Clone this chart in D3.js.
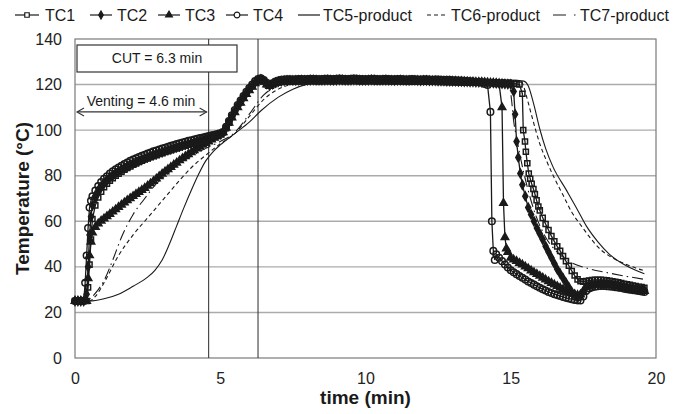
<!DOCTYPE html>
<html>
<head>
<meta charset="utf-8">
<script src="https://cdn.jsdelivr.net/npm/d3@7"></script>
<style>
  body { margin: 0; background: #fff; }
  svg { display: block; font-family: "Liberation Sans", Arial, sans-serif; }
</style>
</head>
<body>
<svg id="chart" width="683" height="414"></svg>
<script>
// ---- data: [time (min), temperature (°C)] ----
const xTicks = [0, 5, 10, 15, 20];
const yTicks = [0, 20, 40, 60, 80, 100, 120, 140];
const ventingTime = 4.6;
const cutTime = 6.3;

const tc1 = [[0,25],[0.1,25],[0.2,25],[0.3,25],[0.4,25],[0.45,31],[0.5,41],[0.55,52],[0.6,61],[0.7,67],[0.8,70.5],[0.9,73],
  [1.0,75],[1.1,76.5],[1.2,77.8],[1.3,78.9],[1.4,80],[1.5,80.9],[1.6,81.8],[1.7,82.6],[1.8,83.4],[1.9,84.1],[2.0,84.8],
  [2.1,85.4],[2.2,86],[2.3,86.6],[2.4,87.1],[2.5,87.6],[2.6,88.1],[2.7,88.6],[2.8,89],[2.9,89.5],[3.0,89.9],[3.1,90.4],
  [3.2,90.8],[3.3,91.2],[3.4,91.6],[3.5,92],[3.6,92.4],[3.7,92.8],[3.8,93.2],[3.9,93.6],[4.0,94],[4.1,94.4],[4.2,94.8],
  [4.3,95.2],[4.4,95.6],[4.5,96],[4.6,96.4],[4.7,96.8],[4.8,97.3],[4.9,97.7],[5.0,98.2],[5.1,99],[5.2,100.8],[5.3,103.3],
  [5.4,105.8],[5.5,108.1],[5.6,110.3],[5.7,112.3],[5.8,114.3],[5.9,116.1],[6.0,117.8],[6.1,119.3],[6.2,120.8],[6.3,121.8],
  [6.4,122.2],[6.5,121.5],[6.6,120.2],[6.7,119.6],[6.8,120.2],[6.9,120.8],[7.0,121.2],
  [7.1,121.3],[7.2,121.4],[7.3,121.5],[7.4,121.6],[7.5,121.6],[7.6,121.5],[7.7,121.6],[7.8,121.7],[7.9,121.7],[8.0,121.6],
  [8.1,121.7],[8.2,121.8],[8.3,121.7],[8.4,121.6],[8.5,121.7],[8.6,121.8],[8.7,121.8],[8.8,121.7],[8.9,121.6],[9.0,121.7],
  [9.1,121.8],[9.2,121.9],[9.3,121.8],[9.4,121.7],[9.5,121.7],[9.6,121.8],[9.7,121.9],[9.8,121.8],[9.9,121.7],[10.0,121.6],
  [10.1,121.7],[10.2,121.8],[10.3,121.8],[10.4,121.7],[10.5,121.6],[10.6,121.7],[10.7,121.8],[10.8,121.7],[10.9,121.6],[11.0,121.6],
  [11.1,121.7],[11.2,121.7],[11.3,121.6],[11.4,121.5],[11.5,121.6],[11.6,121.7],[11.7,121.6],[11.8,121.5],[11.9,121.5],[12.0,121.6],
  [12.1,121.6],[12.2,121.5],[12.3,121.5],[12.4,121.5],[12.5,121.4],[12.6,121.5],[12.7,121.5],[12.8,121.4],[12.9,121.4],[13.0,121.4],
  [13.1,121.4],[13.2,121.3],[13.3,121.3],[13.4,121.3],[13.5,121.3],[13.6,121.2],[13.7,121.2],[13.8,121.2],[13.9,121.2],[14.0,121.1],
  [14.1,121.1],[14.2,121],[14.3,121],[14.4,120.9],[14.5,120.9],[14.6,120.8],[14.7,120.7],[14.8,120.7],[14.9,120.6],[15.0,120.5],
  [15.1,120.4],[15.2,120.3],[15.3,120],[15.4,116],[15.43,100],[15.49,95],[15.52,90.5],[15.57,85.5],[15.62,81],[15.67,78.7],
  [15.72,76.5],[15.78,74.2],[15.83,72],[15.89,69.2],[15.95,66.5],[16.0,64.8],[16.1,61.5],[16.2,58.8],[16.3,56.2],[16.4,53.5],
  [16.5,51.2],[16.6,49],[16.7,47],[16.8,44.7],[16.9,42.5],[17.0,40.5],[17.1,38.2],[17.2,36.2],[17.3,34.5],[17.4,33.7],
  [17.5,33.5],[17.6,33.8],[17.7,34],[17.8,34.2],[17.9,34.3],[18.0,34.3],[18.1,34.3],[18.2,34.2],[18.3,34.1],[18.4,33.9],
  [18.5,33.7],[18.6,33.4],[18.7,33.2],[18.8,32.9],[18.9,32.6],[19.0,32.3],[19.1,32.1],[19.2,31.8],[19.3,31.6],[19.4,31.3],
  [19.5,31.1],[19.6,30.8]];

const tc2 = [[0,25],[0.1,25],[0.2,25],[0.3,25],[0.4,28],[0.45,40],[0.5,54],[0.55,62],[0.6,67],[0.7,70.5],[0.8,73],[0.9,75],
  [1.0,76.5],[1.1,77.8],[1.2,79],[1.3,80],[1.4,81],[1.5,81.8],[1.6,82.6],[1.7,83.3],[1.8,84],[1.9,84.7],[2.0,85.3],[2.1,85.9],
  [2.2,86.5],[2.3,87.1],[2.4,87.6],[2.5,88.1],[2.6,88.6],[2.7,89.1],[2.8,89.5],[2.9,90],[3.0,90.4],[3.1,90.9],[3.2,91.3],
  [3.3,91.7],[3.4,92.1],[3.5,92.5],[3.6,92.9],[3.7,93.3],[3.8,93.7],[3.9,94],[4.0,94.4],[4.1,94.8],[4.2,95.1],[4.3,95.5],
  [4.4,95.8],[4.5,96.2],[4.6,96.5],[4.7,96.9],[4.8,97.3],[4.9,97.8],[5.0,98.3],[5.1,99],[5.2,101],[5.3,103.5],[5.4,106],
  [5.5,108.3],[5.6,110.5],[5.7,112.5],[5.8,114.5],[5.9,116.3],[6.0,118],[6.1,119.6],[6.2,121],[6.3,122],[6.4,122.3],
  [6.5,121.6],[6.6,120.3],[6.7,119.5],[6.8,120.2],[6.9,120.9],[7.0,121.3],
  [7.1,121.5],[7.2,121.7],[7.3,121.8],[7.4,121.9],[7.5,121.8],[7.6,121.8],[7.7,121.9],[7.8,122],[7.9,121.9],[8.0,121.9],
  [8.1,122],[8.2,122.1],[8.3,122],[8.4,121.9],[8.5,121.9],[8.6,122],[8.7,122.1],[8.8,122],[8.9,121.9],[9.0,122],
  [9.1,122.1],[9.2,122.1],[9.3,122],[9.4,121.9],[9.5,122],[9.6,122.1],[9.7,122.1],[9.8,122],[9.9,121.9],[10.0,121.9],
  [10.1,122],[10.2,122.1],[10.3,122],[10.4,121.9],[10.5,121.9],[10.6,122],[10.7,122],[10.8,121.9],[10.9,121.9],[11.0,121.8],
  [11.1,121.9],[11.2,122],[11.3,121.9],[11.4,121.8],[11.5,121.8],[11.6,121.9],[11.7,121.9],[11.8,121.8],[11.9,121.7],[12.0,121.8],
  [12.1,121.8],[12.2,121.7],[12.3,121.7],[12.4,121.7],[12.5,121.6],[12.6,121.6],[12.7,121.6],[12.8,121.5],[12.9,121.5],[13.0,121.5],
  [13.1,121.5],[13.2,121.4],[13.3,121.4],[13.4,121.3],[13.5,121.3],[13.6,121.2],[13.7,121.2],[13.8,121.1],[13.9,121.1],[14.0,121.1],
  [14.1,121],[14.2,120.9],[14.3,120.8],[14.4,120.7],[14.5,120.6],[14.6,120.5],[14.7,120.4],[14.8,120.3],[14.9,120.2],[15.0,120.1],
  [15.1,117],[15.15,107],[15.2,95],[15.26,88],[15.33,81],[15.4,76],[15.5,71],[15.6,66],[15.7,63],[15.8,60],[15.9,57],
  [16.0,54.5],[16.1,52],[16.2,49],[16.3,46.5],[16.4,44],[16.5,41.5],[16.6,39],[16.7,37],[16.8,35],[16.9,33],[17.0,31],
  [17.1,29],[17.2,27.5],[17.3,26.5],[17.4,27.5],[17.5,29.5],[17.6,31.5],[17.7,32],[17.8,32.3],[17.9,32.5],[18.0,32.6],
  [18.1,32.7],[18.2,32.7],[18.3,32.6],[18.4,32.5],[18.5,32.3],[18.6,32.1],[18.7,31.9],[18.8,31.7],[18.9,31.4],[19.0,31.2],
  [19.1,31],[19.2,30.7],[19.3,30.5],[19.4,30.3],[19.5,30.1],[19.6,29.9]];

const tc3 = [[0,25],[0.1,25],[0.2,25],[0.3,25],[0.4,25],[0.45,35],[0.5,45],[0.55,51],[0.6,55],[0.7,57.5],[0.8,59],[0.9,60.2],
  [1.0,61.2],[1.1,62.2],[1.2,63.2],[1.3,64.2],[1.4,65.2],[1.5,66.2],[1.6,67.2],[1.7,68.2],[1.8,69.2],[1.9,70.1],[2.0,71],
  [2.1,71.9],[2.2,72.8],[2.3,73.7],[2.4,74.6],[2.5,75.6],[2.6,76.6],[2.7,77.6],[2.8,78.7],[2.9,79.7],[3.0,80.8],[3.1,81.8],
  [3.2,82.8],[3.3,83.8],[3.4,84.8],[3.5,85.7],[3.6,86.7],[3.7,87.6],[3.8,88.5],[3.9,89.4],[4.0,90.2],[4.1,91.1],[4.2,91.9],
  [4.3,92.7],[4.4,93.5],[4.5,94.3],[4.6,95],[4.7,95.8],[4.8,96.6],[4.9,97.3],[5.0,98],[5.1,99],[5.2,101],[5.3,103.2],
  [5.4,105.5],[5.5,107.8],[5.6,110],[5.7,112],[5.8,114],[5.9,115.8],[6.0,117.5],[6.1,119],[6.2,120.5],[6.3,121.5],[6.4,122],
  [6.5,121.2],[6.6,120],[6.7,119.3],[6.8,120],[6.9,120.6],[7.0,121],
  [7.1,121.1],[7.2,121.2],[7.3,121.3],[7.4,121.3],[7.5,121.2],[7.6,121.3],[7.7,121.4],[7.8,121.3],[7.9,121.3],[8.0,121.4],
  [8.1,121.5],[8.2,121.4],[8.3,121.3],[8.4,121.3],[8.5,121.4],[8.6,121.5],[8.7,121.4],[8.8,121.3],[8.9,121.4],[9.0,121.5],
  [9.1,121.5],[9.2,121.4],[9.3,121.3],[9.4,121.4],[9.5,121.5],[9.6,121.5],[9.7,121.4],[9.8,121.3],[9.9,121.3],[10.0,121.4],
  [10.1,121.5],[10.2,121.4],[10.3,121.3],[10.4,121.3],[10.5,121.4],[10.6,121.5],[10.7,121.4],[10.8,121.3],[10.9,121.3],[11.0,121.4],
  [11.1,121.4],[11.2,121.3],[11.3,121.2],[11.4,121.3],[11.5,121.3],[11.6,121.2],[11.7,121.2],[11.8,121.3],[11.9,121.2],[12.0,121.2],
  [12.1,121.1],[12.2,121.2],[12.3,121.2],[12.4,121.1],[12.5,121.1],[12.6,121],[12.7,121.1],[12.8,121],[12.9,121],[13.0,121],
  [13.1,120.9],[13.2,120.9],[13.3,120.9],[13.4,120.8],[13.5,120.8],[13.6,120.8],[13.7,120.7],[13.8,120.7],[13.9,120.7],[14.0,120.7],
  [14.1,120.6],[14.2,120.6],[14.3,120.5],[14.4,120.5],[14.5,120.4],[14.6,120.1],[14.7,110],[14.75,68],[14.8,53],[14.85,48],
  [14.9,46.5],[15.0,44],[15.1,43.2],[15.2,42.5],[15.3,41.7],[15.4,41],[15.5,40.1],[15.6,39.3],[15.7,38.4],[15.8,37.6],
  [15.9,36.8],[16.0,36],[16.1,35.2],[16.2,34.4],[16.3,33.6],[16.4,32.9],[16.5,32.2],[16.6,31.5],[16.7,30.8],[16.8,30.2],
  [16.9,29.6],[17.0,29],[17.1,28.5],[17.2,28],[17.3,27.6],[17.4,27.8],[17.5,29],[17.6,31],[17.7,31.6],[17.8,32],[17.9,32.1],
  [18.0,32.2],[18.1,32.2],[18.2,32.2],[18.3,32.1],[18.4,32],[18.5,31.8],[18.6,31.6],[18.7,31.4],[18.8,31.1],[18.9,30.9],
  [19.0,30.6],[19.1,30.4],[19.2,30.2],[19.3,30],[19.4,29.8],[19.5,29.6],[19.6,29.4]];

const tc4 = [[0,25],[0.1,25],[0.2,25],[0.3,25],[0.35,33],[0.4,45],[0.45,57],[0.5,66],[0.55,69],[0.6,71],[0.7,73.5],[0.8,75.5],
  [0.9,77.2],[1.0,78.6],[1.1,79.8],[1.2,80.9],[1.3,81.9],[1.4,82.8],[1.5,83.6],[1.6,84.4],[1.7,85.1],[1.8,85.8],[1.9,86.5],
  [2.0,87.1],[2.1,87.7],[2.2,88.2],[2.3,88.7],[2.4,89.2],[2.5,89.7],[2.6,90.2],[2.7,90.7],[2.8,91.1],[2.9,91.5],[3.0,91.9],
  [3.1,92.3],[3.2,92.7],[3.3,93.1],[3.4,93.5],[3.5,93.9],[3.6,94.2],[3.7,94.6],[3.8,94.9],[3.9,95.3],[4.0,95.6],[4.1,95.9],
  [4.2,96.2],[4.3,96.5],[4.4,96.8],[4.5,97.1],[4.6,97.4],[4.7,97.7],[4.8,98],[4.9,98.3],[5.0,98.6],[5.1,99.2],[5.2,101.5],
  [5.3,104],[5.4,106.5],[5.5,108.8],[5.6,111],[5.7,113],[5.8,115],[5.9,116.8],[6.0,118.5],[6.1,120],[6.2,121.5],[6.3,122.4],
  [6.4,122.8],[6.5,122],[6.6,120.8],[6.7,120],[6.8,120.6],[6.9,121.3],[7.0,121.8],
  [7.1,122.1],[7.2,122.2],[7.3,122.3],[7.4,122.3],[7.5,122.2],[7.6,122.3],[7.7,122.4],[7.8,122.4],[7.9,122.3],[8.0,122.4],
  [8.1,122.5],[8.2,122.4],[8.3,122.4],[8.4,122.3],[8.5,122.4],[8.6,122.5],[8.7,122.5],[8.8,122.4],[8.9,122.4],[9.0,122.5],
  [9.1,122.6],[9.2,122.5],[9.3,122.4],[9.4,122.4],[9.5,122.5],[9.6,122.6],[9.7,122.5],[9.8,122.4],[9.9,122.4],[10.0,122.3],
  [10.1,122.4],[10.2,122.5],[10.3,122.5],[10.4,122.4],[10.5,122.3],[10.6,122.4],[10.7,122.5],[10.8,122.4],[10.9,122.3],[11.0,122.3],
  [11.1,122.4],[11.2,122.4],[11.3,122.3],[11.4,122.2],[11.5,122.3],[11.6,122.4],[11.7,122.3],[11.8,122.2],[11.9,122.2],[12.0,122.3],
  [12.1,122.3],[12.2,122.2],[12.3,122.1],[12.4,122.2],[12.5,122.2],[12.6,122.1],[12.7,122],[12.8,122.1],[12.9,122.1],[13.0,121.9],
  [13.1,121.9],[13.2,121.8],[13.3,121.8],[13.4,121.7],[13.5,121.5],[13.6,121.4],[13.7,121.3],[13.8,121.1],[13.9,121],[14.0,120.8],
  [14.1,120.3],[14.2,119.8],[14.3,108],[14.35,60],[14.4,47],[14.45,43],[14.5,45.5],[14.6,44],[14.7,42.5],[14.8,41],[14.9,39.7],
  [15.0,38.5],[15.1,37.6],[15.2,36.8],[15.3,36],[15.4,35.2],[15.5,34.4],[15.6,33.6],[15.7,32.9],[15.8,32.2],[15.9,31.5],
  [16.0,30.8],[16.1,30.2],[16.2,29.6],[16.3,29],[16.4,28.5],[16.5,28],[16.6,27.6],[16.7,27.2],[16.8,26.8],[16.9,26.4],
  [17.0,26.1],[17.1,25.8],[17.2,25.5],[17.3,25.3],[17.4,25.2],[17.5,27],[17.6,29.5],[17.7,30.5],[17.8,31],[17.9,31.3],
  [18.0,31.5],[18.1,31.6],[18.2,31.6],[18.3,31.5],[18.4,31.4],[18.5,31.3],[18.6,31.1],[18.7,30.9],[18.8,30.7],[18.9,30.4],
  [19.0,30.2],[19.1,30],[19.2,29.8],[19.3,29.6],[19.4,29.4],[19.5,29.2],[19.6,29]];

const tc5 = [[0,25],[0.5,25],[1.0,26],[1.5,28],[2.0,31.5],[2.5,35.5],[2.75,38.5],[3.0,43],[3.25,50],[3.5,58],[3.75,66],[4.0,73.5],
  [4.25,80.5],[4.5,86.5],[4.75,90.5],[5.0,93.5],[5.5,98.5],[6.0,103.5],[6.4,108.5],[7.0,114.5],[7.5,118],[8.0,120.2],[8.5,121.3],
  [9.0,121.8],[10,122],[12,122],[14,122],[15.0,122],[15.45,121.5],[15.6,119.5],[15.8,111],[16.0,100.5],[16.2,92],[16.45,84],
  [16.9,74],[17.3,65],[17.6,58],[18.0,51],[18.4,45.5],[18.9,41],[19.3,38.5],[19.6,37]];

const tc6 = [[0,25],[0.5,25],[0.7,27],[1.0,33],[1.5,45],[2.0,54],[2.5,61.5],[2.8,66],[3.2,72],[3.6,78],[4.0,83.5],[4.5,89],[5.0,94],
  [5.5,98.5],[6.0,106],[6.5,113.5],[7.0,118],[7.5,120.3],[8.0,121.4],[9.0,122],[12,122],[15.0,122],[15.35,121.5],[15.45,119],
  [15.55,114.5],[15.75,105],[16.0,94],[16.25,86],[16.5,79],[16.8,71.5],[17.1,64],[17.4,58.5],[17.75,52.5],[18.1,47.5],[18.5,44],
  [18.9,41.5],[19.3,39.5],[19.6,38.3]];

const tc7 = [[0,25],[0.4,25],[0.6,27],[0.8,30],[1.0,34],[1.3,43],[1.6,53],[2.0,63],[2.4,70],[2.8,76.5],[3.2,81],[3.6,85.5],[4.0,88.5],
  [4.5,92],[5.0,95],[5.5,99],[6.0,107],[6.5,115.5],[7.0,119.5],[7.5,121],[8.0,121.7],[9,122],[12,122],[14.8,122],[14.95,120],
  [15.03,113],[15.1,104],[15.2,97],[15.35,87],[15.55,76],[15.85,63],[16.2,53],[16.6,46.5],[17.0,42.5],[17.6,39.5],[18.3,37.5],
  [19.0,35.8],[19.6,34.5]];

const seriesNames = ["TC1", "TC2", "TC3", "TC4", "TC5-product", "TC6-product", "TC7-product"];

// ---- layout ----
const svg = d3.select("#chart");
const x = d3.scaleLinear().domain([0, 20]).range([75, 656]);
const y = d3.scaleLinear().domain([0, 140]).range([358, 39]);
const ink = "#1a1a1a";

// horizontal gridlines
svg.append("g").selectAll("line")
  .data(yTicks.filter(v => v > 0 && v < 140))
  .join("line")
  .attr("x1", x(0)).attr("x2", x(20))
  .attr("y1", d => y(d)).attr("y2", d => y(d))
  .attr("stroke", "#ababab").attr("stroke-width", 1.4);

// plot frame
svg.append("rect")
  .attr("x", x(0)).attr("y", y(140))
  .attr("width", x(20) - x(0)).attr("height", y(0) - y(140))
  .attr("fill", "none").attr("stroke", "#7a7a7a").attr("stroke-width", 1.2);

// axes
const yAxis = svg.append("g").attr("transform", `translate(${x(0)},0)`)
  .call(d3.axisLeft(y).tickValues(yTicks).tickSize(0).tickPadding(13));
const xAxis = svg.append("g").attr("transform", `translate(0,${y(0)})`)
  .call(d3.axisBottom(x).tickValues(xTicks).tickSize(0).tickPadding(15));
[yAxis, xAxis].forEach(a => {
  a.select(".domain").remove();
  a.selectAll("text").attr("font-size", 16).attr("fill", "#222")
    .attr("font-family", "'Liberation Sans', Arial, sans-serif");
});

svg.append("text")
  .attr("transform", `translate(24,${(y(0) + y(140)) / 2}) rotate(-90)`)
  .attr("text-anchor", "middle").attr("dominant-baseline", "middle")
  .attr("font-size", 19).attr("font-weight", "bold").attr("fill", "#1a1a1a")
  .text("Temperature (°C)");
svg.append("text")
  .attr("x", (x(0) + x(20)) / 2).attr("y", 404)
  .attr("text-anchor", "middle")
  .attr("font-size", 19).attr("font-weight", "bold").attr("fill", "#1a1a1a")
  .text("time (min)");

// venting and cut-off markers
[ventingTime, cutTime].forEach(t => {
  svg.append("line")
    .attr("x1", x(t)).attr("x2", x(t)).attr("y1", y(0)).attr("y2", y(140))
    .attr("stroke", "#3c3c3c").attr("stroke-width", 1.1);
});

// ---- curves ----
const line = d3.line().x(d => x(d[0])).y(d => y(d[1]));
const smooth = d3.line().x(d => x(d[0])).y(d => y(d[1])).curve(d3.curveMonotoneX);

const products = [
  { data: tc5, dash: null },
  { data: tc6, dash: "4,3" },
  { data: tc7, dash: "11,4,1.5,4" }
];
products.forEach(p => {
  svg.append("path").attr("d", smooth(p.data))
    .attr("fill", "none").attr("stroke", ink).attr("stroke-width", 1.1)
    .attr("stroke-dasharray", p.dash);
});

// probe traces: dense open/filled markers on a thin line
const probes = [
  { data: tc3, type: d3.symbolTriangle, size: 24, fill: ink },
  { data: tc2, type: d3.symbolDiamond, size: 22, fill: ink },
  { data: tc1, type: d3.symbolSquare, size: 26, fill: "none" },
  { data: tc4, type: d3.symbolCircle, size: 34, fill: "none" }
];
probes.forEach(p => {
  svg.append("path").attr("d", line(p.data))
    .attr("fill", "none").attr("stroke", ink).attr("stroke-width", 1.3);
});
probes.forEach(p => {
  svg.append("g").selectAll("path")
    .data(p.data)
    .join("path")
    .attr("transform", d => `translate(${x(d[0])},${y(d[1])})`)
    .attr("d", d3.symbol().type(p.type).size(p.size))
    .attr("fill", p.fill).attr("stroke", ink).attr("stroke-width", 1.5);
});

// ---- annotations ----
svg.append("rect")
  .attr("x", 77).attr("y", 45).attr("width", 160).attr("height", 27)
  .attr("fill", "#fff").attr("stroke", "#333").attr("stroke-width", 1.2);
svg.append("text")
  .attr("x", 157).attr("y", 63).attr("text-anchor", "middle")
  .attr("font-size", 14).attr("fill", "#1a1a1a")
  .text(`CUT = ${cutTime} min`);

const arrowY = y(108);
svg.append("line")
  .attr("x1", x(0) + 2).attr("x2", x(ventingTime) - 2)
  .attr("y1", arrowY).attr("y2", arrowY)
  .attr("stroke", "#333").attr("stroke-width", 1.1);
[[x(0) + 2, 1], [x(ventingTime) - 2, -1]].forEach(([px, dir]) => {
  svg.append("path")
    .attr("d", `M${px + dir * 7},${arrowY - 4}L${px},${arrowY}L${px + dir * 7},${arrowY + 4}`)
    .attr("fill", "none").attr("stroke", "#333").attr("stroke-width", 1.1);
});
svg.append("text")
  .attr("x", 141).attr("y", 106).attr("text-anchor", "middle")
  .attr("font-size", 14).attr("fill", "#1a1a1a")
  .text(`Venting = ${ventingTime} min`);

// ---- legend ----
const legendY = 15;
const legendItems = [
  { x0: 15, x1: 39, tx: 45, symbol: d3.symbolSquare, size: 20, fill: "#fff" },
  { x0: 90, x1: 112, tx: 117, symbol: d3.symbolDiamond, size: 18, fill: ink },
  { x0: 158, x1: 180, tx: 185, symbol: d3.symbolTriangle, size: 20, fill: ink },
  { x0: 226, x1: 248, tx: 253, symbol: d3.symbolCircle, size: 26, fill: "#fff" },
  { x0: 298, x1: 320, tx: 323, dash: null },
  { x0: 427, x1: 445, tx: 451, dash: "4,3" },
  { x0: 553, x1: 578, tx: 580, dash: "13,8,1.5,4" }
];
legendItems.forEach((it, i) => {
  const g = svg.append("g");
  g.append("line").attr("x1", it.x0).attr("x2", it.x1)
    .attr("y1", legendY).attr("y2", legendY)
    .attr("stroke", ink).attr("stroke-width", 1.2)
    .attr("stroke-dasharray", it.dash || null);
  if (it.symbol) {
    g.append("path")
      .attr("transform", `translate(${(it.x0 + it.x1) / 2},${legendY})`)
      .attr("d", d3.symbol().type(it.symbol).size(it.size))
      .attr("fill", it.fill).attr("stroke", ink).attr("stroke-width", 1.2);
  }
  g.append("text").attr("x", it.tx).attr("y", legendY)
    .attr("dominant-baseline", "central")
    .attr("font-size", 16).attr("fill", "#1a1a1a")
    .text(seriesNames[i]);
});
</script>
</body>
</html>
